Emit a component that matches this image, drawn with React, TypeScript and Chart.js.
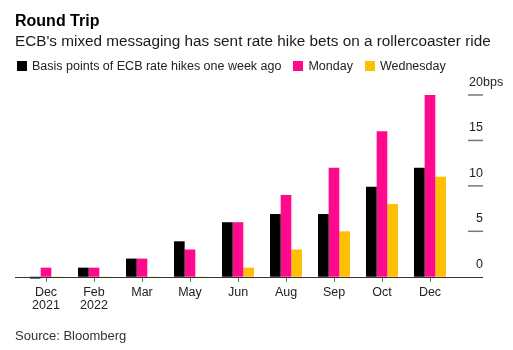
import React, { useEffect, useRef } from "react";
import { Chart, registerables } from "chart.js";

Chart.register(...registerables);

// ---- data ----
const categories: (string | string[])[] = [
  ["Dec", "2021"],
  ["Feb", "2022"],
  "Mar",
  "May",
  "Jun",
  "Aug",
  "Sep",
  "Oct",
  "Dec",
];
const weekAgo = [-0.2, 1, 2, 3.9, 6, 6.9, 6.9, 9.9, 12];
const monday = [1, 1, 2, 3, 6, 9, 12, 16, 20];
const wednesday = [-0.1, -0.1, -0.1, -0.1, 1, 3, 5, 8, 11];
const yTicks = [0, 5, 10, 15, 20];
const seriesNames = ["Basis points of ECB rate hikes one week ago", "Monday", "Wednesday"];
const yUnit = "bps";

const COLORS = ["#000000", "#FF0A8C", "#FFC000"];
const FONT = '"Liberation Sans", Arial, Helvetica, sans-serif';

const axisPlugin = {
  id: "bbgAxis",
  afterDatasetsDraw(chart: any) {
    const { ctx, chartArea, scales } = chart;
    const y = scales.y;
    const y0 = Math.round(y.getPixelForValue(0)) + 0.5;
    ctx.save();
    // baseline
    ctx.strokeStyle = "#333";
    ctx.lineWidth = 1;
    ctx.beginPath();
    ctx.moveTo(chartArea.left - 7, y0);
    ctx.lineTo(chartArea.right + 29, y0);
    ctx.stroke();
    // y ticks & labels
    ctx.font = `12.5px ${FONT}`;
    ctx.fillStyle = "#222";
    ctx.textBaseline = "alphabetic";
    const xr = chartArea.right + 29;
    const xl = chartArea.right + 14;
    yTicks.forEach((v, i) => {
      const py = y.getPixelForValue(v);
      if (v !== 0) {
        ctx.strokeStyle = "#777";
        ctx.lineWidth = 1.5;
        ctx.beginPath();
        ctx.moveTo(xl, py);
        ctx.lineTo(xr, py);
        ctx.stroke();
      }
      ctx.textAlign = "right";
      ctx.fillText(String(v), xr, py - 9);
      if (i === yTicks.length - 1) {
        ctx.textAlign = "left";
        ctx.fillText(yUnit, xr, py - 9);
      }
    });
    ctx.restore();
  },
};

export default function App() {
  const ref = useRef<HTMLCanvasElement>(null);

  useEffect(() => {
    if (!ref.current) return;
    const data = [weekAgo, monday, wednesday];
    const chart = new Chart(ref.current, {
      type: "bar",
      data: {
        labels: categories,
        datasets: data.map((d, i) => ({
          label: seriesNames[i],
          data: d,
          backgroundColor: COLORS[i],
          borderWidth: 0,
          barPercentage: 1,
          categoryPercentage: 0.667,
          clip: false as any,
        })),
      },
      options: {
        responsive: false,
        animation: false,
        layout: { padding: { top: 95, left: 22, right: 59, bottom: 34 } },
        plugins: { legend: { display: false }, tooltip: { enabled: false }, title: { display: false } },
        scales: {
          x: {
            offset: true,
            grid: {
              display: true,
              drawOnChartArea: false,
              drawTicks: true,
              tickLength: 5,
              color: "#666",
              offset: false,
            },
            border: { display: false },
            ticks: {
              color: "#222",
              font: { size: 12.5, family: FONT, lineHeight: 1.05 },
              padding: 4,
              maxRotation: 0,
              autoSkip: false,
            },
          },
          y: { display: false, min: 0, max: 20 },
        },
      },
      plugins: [axisPlugin],
    });
    return () => chart.destroy();
  }, []);

  return (
    <div style={{ position: "absolute", left: 0, top: 0, width: 513, height: 350, background: "#fff", fontFamily: FONT }}>
      <canvas ref={ref} width={513} height={350} style={{ position: "absolute", left: 0, top: 0 }} />
      <div style={{ position: "absolute", left: 15, top: 13, fontSize: 16, lineHeight: "16px", fontWeight: "bold", color: "#000", whiteSpace: "nowrap" }}>
        Round Trip
      </div>
      <div style={{ position: "absolute", left: 15, top: 33, fontSize: 15.3, lineHeight: "15px", color: "#1a1a1a", whiteSpace: "nowrap" }}>
        ECB's mixed messaging has sent rate hike bets on a rollercoaster ride
      </div>
      <div style={{ position: "absolute", left: 17, top: 60, fontSize: 12.5, lineHeight: "12.5px", color: "#222", display: "flex", alignItems: "flex-end", whiteSpace: "nowrap" }}>
        {seriesNames.map((n, i) => (
          <div key={n} style={{ display: "flex", alignItems: "center", marginRight: 12 }}>
            <span style={{ display: "inline-block", width: 10, height: 10, background: COLORS[i], marginRight: 5 }} />
            <span>{n}</span>
          </div>
        ))}
      </div>
      <div style={{ position: "absolute", left: 15, top: 329, fontSize: 13, lineHeight: "13px", color: "#333", whiteSpace: "nowrap" }}>
        Source: Bloomberg
      </div>
    </div>
  );
}
